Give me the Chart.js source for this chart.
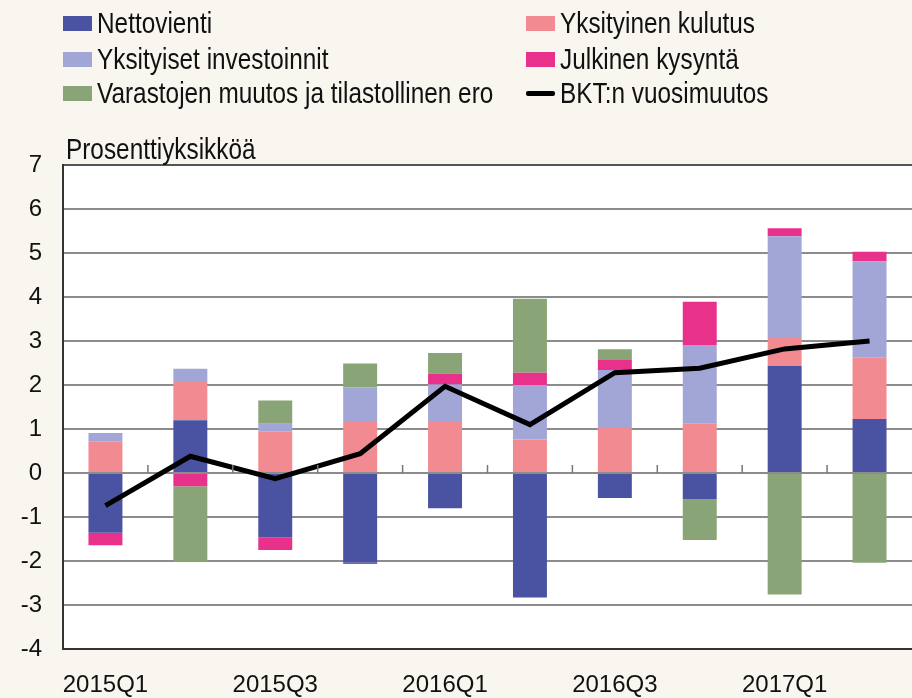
<!DOCTYPE html>
<html lang="fi">
<head>
    <meta charset="UTF-8" />
    <title>BKT:n kasvun kontribuutiot</title>
    <script src="https://cdn.jsdelivr.net/npm/chart.js@4/dist/chart.umd.min.js"></script>
    <style>
        html, body { margin: 0; padding: 0; background: #f9f5ef; }
        #wrap { position: relative; width: 912px; height: 698px; overflow: hidden; }
        #myChart { position: absolute; left: 0; top: 0; }
        .narrow { font-family: "Liberation Sans", Arial, sans-serif; font-size: 29px; color: #111; }
        #legend { position: absolute; left: 0; top: 0; }
        .item { position: absolute; height: 34px; line-height: 34px; white-space: nowrap; }
        .sw { position: absolute; left: 0; top: 10px; width: 29px; height: 15px; }
        .ln { position: absolute; left: 0; top: 15px; width: 29px; height: 5px; background: #000; border-radius: 2px; }
        .item span.t { position: absolute; left: 34px; top: 0; transform: scaleX(0.84); transform-origin: 0 50%; }
        #unit { position: absolute; left: 66px; top: 132px; line-height: 34px; white-space: nowrap; transform: scaleX(0.84); transform-origin: 0 50%; }
    </style>
</head>
<body>
<div id="wrap">
    <canvas id="myChart" width="912" height="698"></canvas>
    <div id="legend" class="narrow"></div>
    <div id="unit" class="narrow">Prosenttiyksikköä</div>
</div>
<script>
    // Data
    const quarters = ["2015Q1", "2015Q2", "2015Q3", "2015Q4", "2016Q1", "2016Q2", "2016Q3", "2016Q4", "2017Q1", "2017Q2"];
    const nettovienti = [-1.36, 1.20, -1.46, -2.04, -0.80, -2.83, -0.57, -0.59, 2.43, 1.23];
    const kulutus = [0.71, 0.87, 0.95, 1.16, 1.16, 0.76, 1.02, 1.12, 0.66, 1.40];
    const investoinnit = [0.20, 0.30, 0.17, 0.79, 0.85, 1.24, 1.32, 1.79, 2.29, 2.18];
    const julkinen = [-0.28, -0.30, -0.29, -0.03, 0.25, 0.28, 0.23, 0.98, 0.18, 0.22];
    const varastot = [0, -1.71, 0.53, 0.54, 0.47, 1.68, 0.24, -0.93, -2.76, -2.04];
    const bkt = [-0.74, 0.38, -0.13, 0.44, 1.97, 1.10, 2.28, 2.38, 2.82, 3.00];
    const yTicks = [-4, -3, -2, -1, 0, 1, 2, 3, 4, 5, 6, 7];

    const FONT = "'Liberation Sans', Arial, sans-serif";

    // white plot area
    const plotBg = {
        id: "plotBg",
        beforeDraw(chart) {
            const { ctx, chartArea: a } = chart;
            ctx.save();
            ctx.fillStyle = "#ffffff";
            ctx.fillRect(a.left, a.top, a.right - a.left, a.bottom - a.top);
            ctx.restore();
        }
    };

    // small tick marks on the zero line between quarters
    const zeroTicks = {
        id: "zeroTicks",
        afterDatasetsDraw(chart) {
            const { ctx, scales } = chart;
            const x = scales.x, y = scales.y;
            const y0 = y.getPixelForValue(0);
            ctx.save();
            ctx.strokeStyle = "#777";
            ctx.lineWidth = 1.5;
            for (let i = 0; i < quarters.length - 1; i++) {
                const px = (x.getPixelForValue(i) + x.getPixelForValue(i + 1)) / 2;
                ctx.beginPath();
                ctx.moveTo(px, y0);
                ctx.lineTo(px, y0 - 8);
                ctx.stroke();
            }
            ctx.restore();
        }
    };

    const bar = (label, data, color) => ({
        type: "bar",
        label,
        data,
        backgroundColor: color,
        borderWidth: 0,
        stack: "s",
        order: 1,
        barPercentage: 0.4,
        categoryPercentage: 1.0
    });

    const chart = new Chart(document.getElementById("myChart"), {
        data: {
            labels: quarters,
            datasets: [
                bar("Nettovienti", nettovienti, "#4a52a2"),
                bar("Yksityinen kulutus", kulutus, "#f28b91"),
                bar("Yksityiset investoinnit", investoinnit, "#a2a6d6"),
                bar("Julkinen kysyntä", julkinen, "#e8318b"),
                bar("Varastojen muutos ja tilastollinen ero", varastot, "#89a476"),
                {
                    type: "line",
                    label: "BKT:n vuosimuutos",
                    data: bkt,
                    borderColor: "#000",
                    backgroundColor: "#000",
                    borderWidth: 5,
                    pointRadius: 0,
                    tension: 0,
                    stack: "line",
                    order: 0
                }
            ]
        },
        options: {
            responsive: false,
            animation: false,
            devicePixelRatio: 1,
            layout: { padding: { top: 165, right: 0, left: 0, bottom: 0 } },
            plugins: {
                legend: { display: false },
                tooltip: { enabled: false }
            },
            scales: {
                x: {
                    stacked: true,
                    offset: true,
                    grid: { display: false },
                    border: { display: true, color: "#333", width: 2 },
                    ticks: {
                        autoSkip: false,
                        maxRotation: 0,
                        padding: 14,
                        color: "#111",
                        font: { family: FONT, size: 24 },
                        callback: (v, i) => (i % 2 === 0 ? quarters[i] : "")
                    },
                    afterFit: (s) => { s.height = 49; }
                },
                y: {
                    stacked: true,
                    min: yTicks[0],
                    max: yTicks[yTicks.length - 1],
                    afterBuildTicks: (s) => { s.ticks = yTicks.map(v => ({ value: v })); },
                    grid: {
                        drawTicks: false,
                        color: (c) => (c.tick && c.tick.value === 7 ? "#555" : "#8c8c8c"),
                        lineWidth: 2
                    },
                    border: { display: true, color: "#333", width: 2 },
                    ticks: {
                        padding: 21,
                        color: "#111",
                        font: { family: FONT, size: 24 }
                    },
                    afterFit: (s) => { s.width = 63; }
                }
            }
        },
        plugins: [plotBg, zeroTicks]
    });

    // two-column legend, filled row by row in dataset order
    const legendEl = document.getElementById("legend");
    const colX = [63, 526];
    const rowY = [6, 42, 76];
    chart.data.datasets.forEach((ds, i) => {
        const item = document.createElement("div");
        item.className = "item";
        item.style.left = colX[i % 2] + "px";
        item.style.top = rowY[Math.floor(i / 2)] + "px";
        const mark = document.createElement("div");
        if (ds.type === "line") {
            mark.className = "ln";
        } else {
            mark.className = "sw";
            mark.style.background = ds.backgroundColor;
        }
        const txt = document.createElement("span");
        txt.className = "t";
        txt.textContent = ds.label;
        item.appendChild(mark);
        item.appendChild(txt);
        legendEl.appendChild(item);
    });
</script>
</body>
</html>
